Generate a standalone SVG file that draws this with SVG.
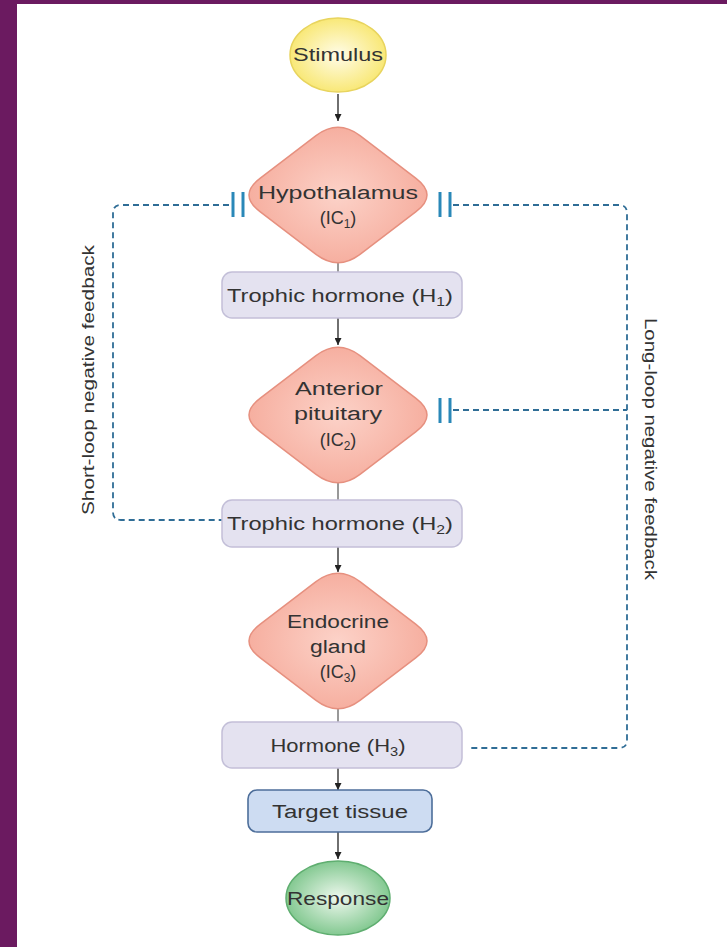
<svg xmlns="http://www.w3.org/2000/svg" width="727" height="947" viewBox="0 0 727 947">
<style>
text{font-family:"Liberation Sans",Arial,sans-serif;fill:#333;font-size:18px;text-anchor:middle}
.box{fill:#e4e2f0;stroke:#c3bfd8;stroke-width:1.5}
.dia{fill:url(#gPink);stroke:#e6907f;stroke-width:1.5}
.arr{stroke:#222;stroke-width:1.3;fill:none;marker-end:url(#ah)}
.ln{stroke:#777;stroke-width:1.5;fill:none}
.fb{stroke:#2f6d96;stroke-width:1.8;fill:none;stroke-dasharray:6 4}
.bar{stroke:#2a88b8;stroke-width:3}
.lbl{font-size:16px}
</style>
<defs>
<marker id="ah" viewBox="0 0 10 10" refX="10" refY="5" markerWidth="7" markerHeight="7" markerUnits="userSpaceOnUse" orient="auto"><path d="M0,0 L10,5 L0,10 Z" fill="#222"/></marker>
<radialGradient id="gPink" cx="50%" cy="50%" r="60%"><stop offset="0" stop-color="#fcd2c8"/><stop offset="1" stop-color="#f5a898"/></radialGradient>
<radialGradient id="gYel" cx="50%" cy="50%" r="55%"><stop offset="0" stop-color="#fffce8"/><stop offset="1" stop-color="#f8e66c"/></radialGradient>
<radialGradient id="gGrn" cx="50%" cy="50%" r="55%"><stop offset="0" stop-color="#eef8ee"/><stop offset="1" stop-color="#79c488"/></radialGradient>
</defs>
<rect x="0" y="0" width="727" height="947" fill="#6b1a60"/>
<rect x="17" y="4" width="710" height="943" fill="#ffffff"/>

<g id="connectors">
<line class="arr" x1="338" y1="94" x2="338" y2="121"/>
<line class="ln" x1="338" y1="263" x2="338" y2="272"/>
<line class="arr" x1="338" y1="318" x2="338" y2="345"/>
<line class="ln" x1="338" y1="483" x2="338" y2="500"/>
<line class="arr" x1="338" y1="547" x2="338" y2="572"/>
<line class="ln" x1="338" y1="709" x2="338" y2="722"/>
<line class="arr" x1="338" y1="768" x2="338" y2="790"/>
<line class="arr" x1="338" y1="832" x2="338" y2="859"/>
<path class="fb" d="M229,205 L121,205 Q113,205 113,213 L113,512 Q113,520 121,520 L222,520"/>
<path class="fb" d="M453,205 L619,205 Q627,205 627,213 L627,740 Q627,748 619,748 L468,748"/>
<path class="fb" d="M453,410 L627,410"/>
<line class="bar" x1="233" y1="192" x2="233" y2="217"/>
<line class="bar" x1="243" y1="192" x2="243" y2="217"/>
<line class="bar" x1="440" y1="192" x2="440" y2="217"/>
<line class="bar" x1="450" y1="192" x2="450" y2="217"/>
<line class="bar" x1="440" y1="398" x2="440" y2="423"/>
<line class="bar" x1="450" y1="398" x2="450" y2="423"/>
</g>

<g id="stimulus">
<ellipse cx="338" cy="55" rx="48" ry="37" fill="url(#gYel)" stroke="#e8d45e" stroke-width="1.5"/>
<text x="338" y="61" textLength="90" lengthAdjust="spacingAndGlyphs">Stimulus</text>
</g>

<g id="hypothalamus">
<path class="dia" d="M360,135.7 L416,178.3 Q438,195 416,211.7 L360,254.3 Q338,271 316,254.3 L260,211.7 Q238,195 260,178.3 L316,135.7 Q338,119 360,135.7 Z"/>
<text x="338" y="199" textLength="160" lengthAdjust="spacingAndGlyphs">Hypothalamus</text>
<text x="338" y="224">(IC<tspan font-size="12" dy="4">1</tspan><tspan dy="-4">)</tspan></text>
</g>

<g id="h1">
<rect class="box" x="222" y="272" width="240" height="46" rx="10"/>
<text x="340" y="302" textLength="226" lengthAdjust="spacingAndGlyphs">Trophic hormone (H<tspan font-size="12" dy="4">1</tspan><tspan dy="-4">)</tspan></text>
</g>

<g id="anterior-pituitary">
<path class="dia" d="M360,355.7 L416,398.3 Q438,415 416,431.7 L360,474.3 Q338,491 316,474.3 L260,431.7 Q238,415 260,398.3 L316,355.7 Q338,339 360,355.7 Z"/>
<text x="339" y="395" textLength="88" lengthAdjust="spacingAndGlyphs">Anterior</text>
<text x="338" y="420" textLength="88" lengthAdjust="spacingAndGlyphs">pituitary</text>
<text x="338" y="446">(IC<tspan font-size="12" dy="4">2</tspan><tspan dy="-4">)</tspan></text>
</g>

<g id="h2">
<rect class="box" x="222" y="500" width="240" height="47" rx="10"/>
<text x="340" y="530" textLength="226" lengthAdjust="spacingAndGlyphs">Trophic hormone (H<tspan font-size="12" dy="4">2</tspan><tspan dy="-4">)</tspan></text>
</g>

<g id="endocrine-gland">
<path class="dia" d="M360,581.7 L416,624.3 Q438,641 416,657.7 L360,700.3 Q338,717 316,700.3 L260,657.7 Q238,641 260,624.3 L316,581.7 Q338,565 360,581.7 Z"/>
<text x="338" y="628" textLength="102" lengthAdjust="spacingAndGlyphs">Endocrine</text>
<text x="338" y="653" textLength="56" lengthAdjust="spacingAndGlyphs">gland</text>
<text x="338" y="678">(IC<tspan font-size="12" dy="4">3</tspan><tspan dy="-4">)</tspan></text>
</g>

<g id="h3">
<rect class="box" x="222" y="722" width="240" height="46" rx="10"/>
<text x="338" y="752" textLength="135" lengthAdjust="spacingAndGlyphs">Hormone (H<tspan font-size="12" dy="4">3</tspan><tspan dy="-4">)</tspan></text>
</g>

<g id="target-tissue">
<rect x="248" y="790" width="184" height="42" rx="9" fill="#cddcf2" stroke="#4d6e9a" stroke-width="1.6"/>
<text x="340" y="818" textLength="136" lengthAdjust="spacingAndGlyphs">Target tissue</text>
</g>

<g id="response">
<ellipse cx="338" cy="898" rx="52" ry="37" fill="url(#gGrn)" stroke="#5fae70" stroke-width="1.5"/>
<text x="338" y="905" textLength="102" lengthAdjust="spacingAndGlyphs">Response</text>
</g>

<g id="labels">
<text class="lbl" transform="translate(94,380) rotate(-90)" textLength="270" lengthAdjust="spacingAndGlyphs">Short-loop negative feedback</text>
<text class="lbl" transform="translate(645,449) rotate(90)" textLength="262" lengthAdjust="spacingAndGlyphs">Long-loop negative feedback</text>
</g>
</svg>
